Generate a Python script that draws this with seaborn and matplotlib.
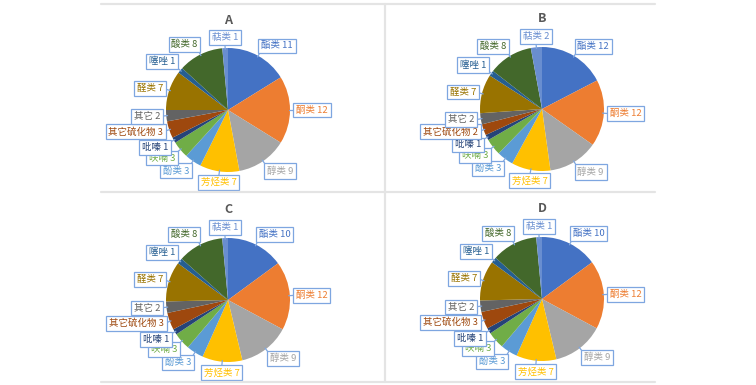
import numpy as np
import matplotlib
matplotlib.use("Agg")
import matplotlib.pyplot as plt
from matplotlib.lines import Line2D
import seaborn as sns

sns.set_theme(style="white")
plt.rcParams['font.family'] = ['Noto Sans CJK SC', 'DejaVu Sans']

# 数据
categories = ['酯类', '酮类', '醇类', '芳烃类', '酚类', '呋喃', '吡嗪',
              '其它硫化物', '其它', '醛类', '噻唑', '酸类', '萜类']
values_a = [11, 12, 9, 7, 3, 3, 1, 3, 2, 7, 1, 8, 1]
values_b = [12, 12, 9, 7, 3, 3, 1, 2, 2, 7, 1, 8, 2]
values_c = [10, 12, 9, 7, 3, 3, 1, 3, 2, 7, 1, 8, 1]
values_d = [10, 12, 9, 7, 3, 3, 1, 3, 2, 7, 1, 8, 1]
titles = ['A', 'B', 'C', 'D']

colors = sns.color_palette(['#4472C4', '#ED7D31', '#A5A5A5', '#FFC000', '#5B9BD5',
                            '#70AD47', '#264478', '#9E480E', '#636363', '#997300',
                            '#255E91', '#43682B', '#698ED0'])

W, H = 756, 385
fig = plt.figure(figsize=(W / 100, H / 100), dpi=100)

# 面板中心 (像素) 与半径
centers = [(228, 110), (542, 109), (228, 300), (542, 299)]
radius = 62

# 面板分隔线
line_kw = dict(color='#e4e4e4', lw=1.6, transform=fig.transFigure)
for y in [4, 192, 382]:
    fig.add_artist(Line2D([101 / W, 655 / W], [1 - y / H, 1 - y / H], **line_kw))
fig.add_artist(Line2D([385 / W, 385 / W], [1 - 4 / H, 1 - 382 / H], **line_kw))

for vals, title, (cx, cy) in zip([values_a, values_b, values_c, values_d], titles, centers):
    ax = fig.add_axes([(cx - radius) / W, 1 - (cy + radius) / H, 2 * radius / W, 2 * radius / H])
    wedges, _ = ax.pie(vals, colors=colors, startangle=90, counterclock=False,
                       radius=1, wedgeprops=dict(linewidth=0))
    ax.set_xlim(-1, 1)
    ax.set_ylim(-1, 1)
    ax.axis('off')
    for w, cat, v, c in zip(wedges, categories, vals, colors):
        ang = np.deg2rad((w.theta1 + w.theta2) / 2)
        x, y = np.cos(ang), np.sin(ang)
        ha = 'left' if x > 0.25 else ('right' if x < -0.25 else 'center')
        va = 'bottom' if y > 0.35 else ('top' if y < -0.35 else 'center')
        # 标注引线
        ax.plot([0.98 * x, 1.1 * x], [0.98 * y, 1.1 * y], color='#7EA6E0', lw=0.9,
                clip_on=False, zorder=3)
        ax.text(1.1 * x, 1.1 * y, f'{cat} {v}', ha=ha, va=va, fontsize=6.8, color=c,
                zorder=4,
                bbox=dict(boxstyle='square,pad=0.3', fc='white', ec='#7EA6E0', lw=0.9))
    fig.text(cx / W, 1 - (cy - 90) / H, title, ha='center', va='center',
             fontsize=9, fontweight='bold', color='#595959')

fig.savefig('out.png', dpi=100, facecolor='white')
